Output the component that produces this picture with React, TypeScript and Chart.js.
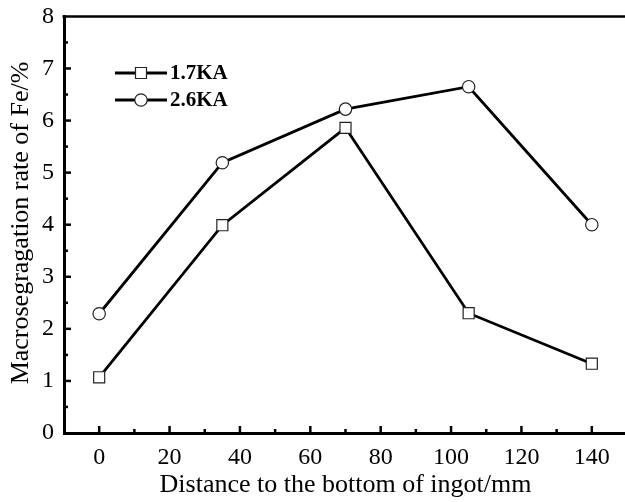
import React, { useEffect, useRef } from 'react';
import { Chart, registerables } from 'chart.js';
Chart.register(...registerables);

const distances = [0, 35, 70, 105, 140];
const series17 = [1.07, 3.99, 5.86, 2.3, 1.33];
const series26 = [2.29, 5.19, 6.22, 6.65, 4.0];
const seriesLabels = ['1.7KA', '2.6KA'];
const xTickValues = [0, 20, 40, 60, 80, 100, 120, 140];
const yTickValues = [0, 1, 2, 3, 4, 5, 6, 7, 8];
const xTitle = 'Distance to the bottom of ingot/mm';
const yTitle = 'Macrosegragation rate of Fe/%';

const FONT = "'Liberation Serif', 'Times New Roman', serif";

const decorPlugin = {
  id: 'decor',
  afterDraw(chart: any) {
    const ctx = chart.ctx;
    const { left, right, top, bottom } = chart.chartArea;
    const xs = chart.scales.x;
    const ys = chart.scales.y;
    ctx.save();
    ctx.strokeStyle = '#000';
    ctx.lineWidth = 2.5;
    ctx.lineCap = 'butt';
    // top border
    ctx.beginPath();
    ctx.moveTo(left - 1.5, top);
    ctx.lineTo(right + 20, top);
    ctx.stroke();
    // x inner ticks
    for (let v = 0; v <= 140; v += 10) {
      const px = xs.getPixelForValue(v);
      const len = v % 20 === 0 ? 7 : 4;
      ctx.beginPath();
      ctx.moveTo(px, bottom);
      ctx.lineTo(px, bottom - len);
      ctx.stroke();
    }
    // y inner ticks
    for (let v = 0.5; v < 8; v += 0.5) {
      const py = ys.getPixelForValue(v);
      const len = Math.abs(v - Math.round(v)) < 1e-6 ? 7 : 4;
      ctx.beginPath();
      ctx.moveTo(left, py);
      ctx.lineTo(left + len, py);
      ctx.stroke();
    }
    // axis titles
    ctx.fillStyle = '#000';
    ctx.font = `26px ${FONT}`;
    ctx.textAlign = 'center';
    ctx.textBaseline = 'alphabetic';
    ctx.fillText(xTitle, (left + right) / 2, 492);
    ctx.save();
    ctx.translate(28, 223);
    ctx.rotate(-Math.PI / 2);
    ctx.fillText(yTitle, 0, 0);
    ctx.restore();
    // legend
    const rows = [73, 100];
    chart.data.datasets.forEach((ds: any, i: number) => {
      const y = rows[i];
      ctx.strokeStyle = '#000';
      ctx.lineWidth = 2.8;
      ctx.beginPath();
      ctx.moveTo(115, y);
      ctx.lineTo(167, y);
      ctx.stroke();
      ctx.fillStyle = '#fff';
      ctx.strokeStyle = '#222';
      ctx.lineWidth = 1.2;
      ctx.beginPath();
      if (ds.pointStyle === 'rect') {
        ctx.rect(141 - 5.5, y - 5.5, 11, 11);
      } else {
        ctx.arc(141, y, 6.2, 0, Math.PI * 2);
      }
      ctx.fill();
      ctx.stroke();
      ctx.fillStyle = '#000';
      ctx.font = `bold 21px ${FONT}`;
      ctx.textAlign = 'left';
      ctx.textBaseline = 'middle';
      ctx.fillText(ds.label, 170, y + 1);
    });
    ctx.restore();
  },
};

export default function App() {
  const ref = useRef<HTMLCanvasElement | null>(null);
  useEffect(() => {
    if (!ref.current) return;
    const chart = new Chart(ref.current, {
      type: 'line',
      data: {
        datasets: [
          {
            label: seriesLabels[0],
            data: distances.map((x, i) => ({ x, y: series17[i] })),
            borderColor: '#000',
            borderWidth: 2.8,
            pointStyle: 'rect',
            pointRadius: 7.8,
            pointBackgroundColor: '#fff',
            pointBorderColor: '#222',
            pointBorderWidth: 1.2,
            tension: 0,
          },
          {
            label: seriesLabels[1],
            data: distances.map((x, i) => ({ x, y: series26[i] })),
            borderColor: '#000',
            borderWidth: 2.8,
            pointStyle: 'circle',
            pointRadius: 6.2,
            pointBackgroundColor: '#fff',
            pointBorderColor: '#222',
            pointBorderWidth: 1.2,
            tension: 0,
          },
        ],
      },
      options: {
        responsive: false,
        animation: false,
        layout: { padding: { left: 0, top: 8, right: 13, bottom: 0 } },
        plugins: { legend: { display: false }, tooltip: { enabled: false } },
        scales: {
          x: {
            type: 'linear',
            min: -10,
            max: 150,
            afterFit: (s: any) => { s.height = 69; },
            afterBuildTicks: (s: any) => { s.ticks = xTickValues.map((v) => ({ value: v })); },
            grid: { display: false },
            border: { display: true, color: '#000', width: 3 },
            ticks: { color: '#000', font: { family: FONT, size: 24 }, padding: 2, maxRotation: 0, autoSkip: false },
          },
          y: {
            type: 'linear',
            min: 0,
            max: 8,
            afterFit: (s: any) => { s.width = 64; },
            afterBuildTicks: (s: any) => { s.ticks = yTickValues.map((v) => ({ value: v })); },
            grid: { display: false },
            border: { display: true, color: '#000', width: 3 },
            ticks: { color: '#000', font: { family: FONT, size: 24 }, padding: 2, autoSkip: false },
          },
        },
      },
      plugins: [decorPlugin],
    });
    return () => chart.destroy();
  }, []);
  return (
    <div style={{ position: 'fixed', left: 0, top: 0, width: 625, height: 502, overflow: 'hidden', background: '#fff' }}>
      <canvas ref={ref} width={640} height={502} style={{ display: 'block' }} />
    </div>
  );
}
